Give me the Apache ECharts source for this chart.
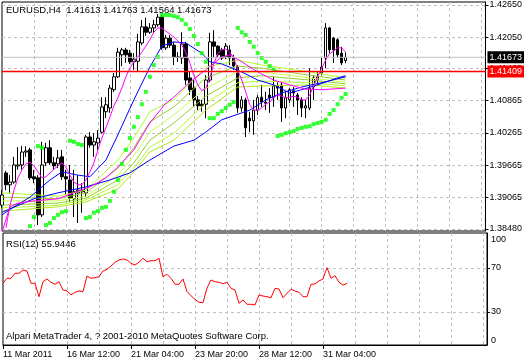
<!DOCTYPE html>
<html><head><meta charset="utf-8">
<script src="https://cdn.jsdelivr.net/npm/echarts@6/dist/echarts.min.js"></script>
<style>html,body{margin:0;padding:0;background:#fff}#c{width:525px;height:363px}</style>
</head><body><div id="c"></div>
<script>
const symbolName = 'EURUSD,H4';
const lastOHLC = [1.41613, 1.41763, 1.41564, 1.41673];
const bidPrice = 1.41673;
const levelPrice = 1.41409;
const rsiName = 'RSI(12)';
const rsiValue = 55.9446;
const copyright = 'Alpari MetaTrader 4, ? 2001-2010 MetaQuotes Software Corp.';
const priceTicks = [1.42650, 1.42050, 1.41465, 1.40865, 1.40265, 1.39665, 1.39065, 1.38480];
const rsiTicks = [100, 70, 30, 0];
const rsiLevels = [70, 30];
const timeTickBars = [0, 16, 32, 48, 64, 80];
const timeTickLabels = ['11 Mar 2011', '16 Mar 12:00', '21 Mar 04:00', '23 Mar 20:00', '28 Mar 12:00', '31 Mar 04:00'];
const totalSlots = 122;

// [open, close, low, high]
const candles = [
[1.3892,1.3911,1.3887,1.3920],[1.3952,1.3930,1.3920,1.3956],[1.3930,1.3935,1.3915,1.3948],[1.3935,1.3967,1.3932,1.3982],
[1.3965,1.3967,1.3958,1.4000],[1.3967,1.3991,1.3958,1.4002],[1.3991,1.3993,1.3982,1.4002],[1.3995,1.3943,1.3939,1.3999],
[1.3945,1.3941,1.3933,1.3958],[1.3943,1.3874,1.3855,1.3948],[1.3874,1.3967,1.3870,1.4010],[1.3971,1.3999,1.3965,1.4008],
[1.3999,1.3971,1.3967,1.4013],[1.3971,1.3965,1.3958,1.3982],[1.3969,1.3980,1.3961,1.3995],[1.3982,1.3945,1.3939,1.3995],
[1.3945,1.3941,1.3911,1.3958],[1.3939,1.3905,1.3898,1.3967],[1.3904,1.3917,1.3870,1.3958],[1.3915,1.3920,1.3859,1.3948],
[1.3920,1.3917,1.3878,1.3933],[1.3915,1.4019,1.3907,1.4023],[1.4019,1.4004,1.3999,1.4028],[1.4004,1.4010,1.3982,1.4026],
[1.4008,1.4017,1.3995,1.4032],[1.4028,1.4075,1.4025,1.4093],[1.4066,1.4079,1.4054,1.4093],[1.4073,1.4110,1.4064,1.4116],
[1.4107,1.4131,1.4103,1.4138],[1.4131,1.4177,1.4129,1.4185],[1.4172,1.4181,1.4151,1.4185],[1.4181,1.4172,1.4157,1.4185],
[1.4175,1.4159,1.4155,1.4181],[1.4159,1.4164,1.4144,1.4175],[1.4160,1.4196,1.4140,1.4211],[1.4194,1.4224,1.4190,1.4237],
[1.4224,1.4214,1.4207,1.4241],[1.4214,1.4222,1.4211,1.4231],[1.4222,1.4228,1.4213,1.4237],[1.4228,1.4242,1.4224,1.4248],
[1.4242,1.4185,1.4181,1.4246],[1.4185,1.4203,1.4181,1.4209],[1.4203,1.4190,1.4185,1.4209],[1.4190,1.4168,1.4153,1.4196],
[1.4168,1.4167,1.4159,1.4177],[1.4166,1.4192,1.4155,1.4214],[1.4192,1.4125,1.4116,1.4196],[1.4129,1.4107,1.4097,1.4140],
[1.4110,1.4088,1.4075,1.4125],[1.4088,1.4077,1.4069,1.4095],[1.4080,1.4077,1.4066,1.4088],[1.4080,1.4125,1.4054,1.4134],
[1.4125,1.4196,1.4121,1.4213],[1.4196,1.4188,1.4166,1.4218],[1.4188,1.4172,1.4166,1.4190],[1.4181,1.4166,1.4162,1.4185],
[1.4168,1.4188,1.4164,1.4194],[1.4181,1.4166,1.4153,1.4190],[1.4166,1.4151,1.4144,1.4172],[1.4149,1.4073,1.4064,1.4153],
[1.4073,1.4088,1.4066,1.4095],[1.4088,1.4036,1.4019,1.4092],[1.4054,1.4049,1.4028,1.4066],[1.4049,1.4069,1.4023,1.4088],
[1.4069,1.4092,1.4060,1.4097],[1.4093,1.4084,1.4075,1.4116],[1.4084,1.4082,1.4069,1.4103],[1.4097,1.4092,1.4064,1.4110],
[1.4093,1.4114,1.4075,1.4131],[1.4114,1.4110,1.4088,1.4121],[1.4116,1.4073,1.4047,1.4120],[1.4073,1.4092,1.4054,1.4103],
[1.4088,1.4107,1.4082,1.4110],[1.4105,1.4101,1.4075,1.4112],[1.4097,1.4088,1.4060,1.4101],[1.4088,1.4073,1.4056,1.4093],
[1.4073,1.4077,1.4054,1.4088],[1.4073,1.4110,1.4069,1.4147],[1.4112,1.4129,1.4088,1.4134],[1.4125,1.4131,1.4116,1.4140],
[1.4138,1.4149,1.4134,1.4166],[1.4166,1.4222,1.4147,1.4231],[1.4222,1.4181,1.4175,1.4224],[1.4203,1.4181,1.4157,1.4205],
[1.4200,1.4172,1.4166,1.4203],[1.4175,1.4157,1.4153,1.4187],[1.41613,1.41673,1.41564,1.41763]
];

const sar = [null,null,null,null,null,null,null,
1.3853,1.3870,1.4002,1.3999,1.3855,1.3859,1.3868,1.3874,1.3879,1.3881,1.4012,1.4010,1.4006,1.4004,
1.3868,1.3870,1.3878,1.3881,1.3887,1.3889,1.3900,1.3917,1.3939,1.3969,1.3995,1.4017,1.4038,1.4056,1.4080,1.4103,1.4131,1.4153,1.4168,
1.4246,1.4246,1.4246,1.4244,1.4242,1.4237,1.4229,1.4220,1.4207,1.4192,1.4175,1.4159,
1.4054,1.4054,1.4062,1.4067,1.4073,1.4079,1.4084,
1.4222,1.4214,1.4209,1.4196,1.4187,1.4175,1.4166,1.4159,1.4151,1.4144,
1.4021,1.4023,1.4026,1.4028,1.4030,1.4034,1.4036,1.4038,1.4039,1.4043,1.4045,1.4047,1.4051,1.4062,1.4069,1.4080,1.4092,1.4099];

const rsi = [56.1,60.6,60.6,65.2,65.2,68.2,67.3,56.1,56.1,43.9,57.5,60,57,55.2,57.5,50,49.1,45.5,47.9,49.1,
48.5,62.7,60.6,61.2,62.1,67.3,68.8,71.8,75.2,77.3,78.2,77.3,74.2,72.7,75.2,78.8,75.7,76.6,76.6,78.8,
62.1,64.3,60.6,55.2,55.2,60,48.5,44.8,41.5,38.8,38.5,51.8,59.1,57.5,57,55.7,57,51.5,50,37.9,
40.9,37,37,36.4,45.5,44.5,43.9,43,51.5,50.9,43,47,50.6,49.1,47.9,43.9,43.9,55.2,55.5,58.2,
60,70.3,60.6,63,57,54.5,55.9446];

const maFastMagenta = [null,1.3850,1.3892,1.3920,1.3943,1.3958,1.3969,1.3972,1.3965,1.3954,1.3943,1.3945,1.3952,1.3959,1.3965,1.3971,
1.3963,1.3948,1.3935,1.3930,1.3930,1.3939,1.3954,1.3971,1.3995,1.4017,1.4036,1.4056,1.4077,1.4092,1.4110,1.4131,1.4147,1.4159,
1.4168,1.4177,1.4188,1.4200,1.4214,1.4222,1.4222,1.4216,1.4211,1.4205,1.4198,1.4190,1.4177,1.4157,1.4134,1.4116,1.4105,1.4110,
1.4129,1.4155,1.4174,1.4181,1.4183,1.4177,1.4166,1.4144,1.4125,1.4103,1.4079,1.4069,1.4069,1.4073,1.4080,1.4084,1.4093,1.4097,
1.4095,1.4092,1.4093,1.4095,1.4093,1.4088,1.4088,1.4097,1.4114,1.4131,1.4147,1.4162,1.4174,1.4179,1.4185,1.4185,1.4177];

const maSlowMagenta = [[0,1.3842],[2,1.3889],[4,1.3896],[8,1.3900],[14,1.3904],[18,1.3915],[22,1.3926],[26,1.3943],[29,1.3963],
[33,1.3995],[37,1.4045],[41,1.4082],[43,1.4093],[47,1.4121],[51,1.4144],[55,1.4168],[57,1.4172],[60,1.4159],[64,1.4140],
[68,1.4125],[72,1.4116],[76,1.4108],[80,1.4107],[86,1.4110]];

const maMidBlue = [[0,1.3874],[3,1.3889],[7,1.3907],[12,1.3939],[15,1.3954],[19,1.3948],[22,1.3945],[26,1.3976],[29,1.4023],
[33,1.4088],[37,1.4149],[40,1.4188],[43,1.4196],[46,1.4194],[50,1.4175],[52,1.4159],[55,1.4155],[60,1.4140],[64,1.4125],
[68,1.4116],[72,1.4101],[75,1.4107],[79,1.4116],[84,1.4129],[86,1.4133]];

const maSlowBlue = [[0,1.3879],[8,1.3904],[14,1.3915],[21,1.3926],[27,1.3939],[32,1.3952],[37,1.3976],[43,1.4002],[48,1.4013],
[51,1.4028],[55,1.4051],[62,1.4069],[66,1.4088],[70,1.4101],[75,1.4112],[80,1.4120],[86,1.4131]];

const ribbonBars = [0, 14, 21, 29, 33, 37, 43, 51, 59, 65, 77, 86];
const ribbon1 = [1.3915,1.3909,1.3920,1.3976,1.4017,1.4066,1.4088,1.4149,1.4162,1.4153,1.4140,1.4129];
const ribbon2 = [1.3907,1.3904,1.3915,1.3961,1.3999,1.4047,1.4075,1.4129,1.4151,1.4147,1.4134,1.4125];
const ribbon3 = [1.3900,1.3900,1.3909,1.3948,1.3984,1.4028,1.4060,1.4110,1.4140,1.4140,1.4129,1.4121];
const ribbon4 = [1.3892,1.3896,1.3905,1.3939,1.3971,1.4013,1.4045,1.4095,1.4129,1.4133,1.4125,1.4118];
const ribbon5 = [1.3887,1.3892,1.3902,1.3930,1.3961,1.4000,1.4026,1.4082,1.4120,1.4123,1.4120,1.4114];
const ribbon6 = [1.3881,1.3889,1.3898,1.3922,1.3954,1.3991,1.4013,1.4069,1.4112,1.4114,1.4116,1.4110];

// ---------- chart ----------
const FONT = 'Liberation Sans';
const GRID_COLOR = '#C0C0C0';
const cats = [];
for (let i = 0; i < totalSlots; i++) cats.push(String(i));

const ribbonColors = ['#ADFF2F', '#9ACD32', '#C8FF50', '#9ACD32', '#ADFF2F', '#B5E61D'];
const ribbons = [ribbon1, ribbon2, ribbon3, ribbon4, ribbon5, ribbon6];

function lineSeries(name, data, color, z) {
  return { name, type: 'line', xAxisIndex: 0, yAxisIndex: 0, data, showSymbol: false, symbol: 'none',
    connectNulls: true, lineStyle: { color, width: 1 }, itemStyle: { color }, z: z || 3, silent: true, animation: false };
}
function priceLine(name, value, color, boxColor, width) {
  return {
    name, type: 'line', xAxisIndex: 0, yAxisIndex: 0, silent: true, animation: false, z: 6,
    data: [[0, value], [totalSlots - 1, value]], showSymbol: false, symbol: 'none', clip: false,
    lineStyle: { color: color, width: width, type: 'solid', opacity: 1 }, itemStyle: { color: color },
    emphasis: { disabled: true },
    endLabel: { show: true, distance: 2, formatter: () => value.toFixed(5), color: '#FFFFFF',
      backgroundColor: boxColor, padding: [2, 2, 1, 2], fontSize: 9, fontFamily: FONT }
  };
}

const series = [];
series.push({
  type: 'line', xAxisIndex: 0, yAxisIndex: 0, data: [], silent: true,
  markLine: { silent: true, symbol: 'none', z: 1, precision: 6, animation: false,
    lineStyle: { color: GRID_COLOR, type: [3, 3], width: 1 }, label: { show: false },
    data: priceTicks.map(v => ({ yAxis: v })) }
});
series.push({
  type: 'candlestick', xAxisIndex: 0, yAxisIndex: 0, data: candles, barWidth: 3, z: 2,
  itemStyle: { color: '#FFFFFF', color0: '#000000', borderColor: '#000000', borderColor0: '#000000', borderWidth: 1 },
  silent: true, animation: false
});
ribbons.forEach((r, k) => {
  series.push(lineSeries('rb' + k, ribbonBars.map((b, j) => [b, r[j]]), ribbonColors[k], 3));
});
series.push(lineSeries('slowBlue', maSlowBlue, '#0000FF', 4));
series.push(lineSeries('midBlue', maMidBlue, '#0000FF', 4));
series.push(lineSeries('slowMagenta', maSlowMagenta, '#FF00FF', 4));
series.push(lineSeries('fastMagenta', maFastMagenta, '#FF00FF', 4));
series.push({
  type: 'scatter', xAxisIndex: 0, yAxisIndex: 0, data: sar, symbol: 'rect', symbolSize: [4, 4],
  itemStyle: { color: '#00FF00' }, z: 5, silent: true, animation: false
});
series.push(priceLine('bid', bidPrice, '#C0C0C0', '#000000', 1));
series.push(priceLine('level', levelPrice, '#FF0000', '#FF0000', 1.4));
series.push({
  type: 'line', xAxisIndex: 1, yAxisIndex: 1, data: rsi, showSymbol: false, symbol: 'none',
  lineStyle: { color: '#FF0000', width: 1 }, itemStyle: { color: '#FF0000' }, z: 3, silent: true, animation: false,
  markLine: { silent: true, symbol: 'none', z: 1, precision: 4, animation: false,
    lineStyle: { color: GRID_COLOR, type: [3, 3], width: 1 }, label: { show: false },
    data: rsiLevels.map(v => ({ yAxis: v })) }
});

const vGrid = (i) => i > 0 && i % 8 === 0;
const isTimeTick = (i) => timeTickBars.indexOf(i) >= 0;
const rsiLabelPos = (v) => v === 100 ? 95.5 : (v === 0 ? 4.5 : v);

const option = {
  animation: false,
  backgroundColor: '#FFFFFF',
  grid: [
    { left: 2, top: 2, width: 485, height: 229, show: true, borderColor: '#000', borderWidth: 1, backgroundColor: '#FFFFFF' },
    { left: 2, top: 233, width: 485, height: 112, show: true, borderColor: '#000', borderWidth: 1, backgroundColor: '#FFFFFF' }
  ],
  xAxis: [
    { type: 'category', gridIndex: 0, data: cats, boundaryGap: false,
      axisLine: { show: false }, axisTick: { show: false }, axisLabel: { show: false },
      splitLine: { show: true, interval: vGrid, lineStyle: { color: GRID_COLOR, type: [3, 3], width: 1 } } },
    { type: 'category', gridIndex: 1, data: cats, boundaryGap: false,
      axisLine: { show: true, lineStyle: { color: '#000', width: 1 } },
      axisTick: { show: true, interval: isTimeTick, length: 4, lineStyle: { color: '#000' } },
      axisLabel: { show: true, interval: isTimeTick, align: 'left', margin: 5, fontSize: 9, fontFamily: FONT, color: '#000',
        formatter: (v) => { const k = timeTickBars.indexOf(Number(v)); return k >= 0 ? timeTickLabels[k] : ''; } },
      splitLine: { show: true, interval: vGrid, lineStyle: { color: GRID_COLOR, type: [3, 3], width: 1 } } }
  ],
  yAxis: [
    { type: 'value', gridIndex: 0, position: 'right', min: 1.384400, max: 1.427028,
      axisLine: { show: true, lineStyle: { color: '#000' } },
      axisTick: { show: true, customValues: priceTicks, length: 3, lineStyle: { color: '#000' } },
      axisLabel: { show: true, customValues: priceTicks, margin: 4, fontSize: 9, fontFamily: FONT, color: '#000',
        formatter: v => Number(v).toFixed(5) },
      splitLine: { show: false } },
    { type: 'value', gridIndex: 1, position: 'right', min: 0, max: 101.8,
      axisLine: { show: true, lineStyle: { color: '#000' } },
      axisTick: { show: true, customValues: rsiLevels, length: 3, lineStyle: { color: '#000' } },
      axisLabel: { show: true, customValues: rsiTicks.map(rsiLabelPos), margin: 4, fontSize: 9, fontFamily: FONT, color: '#000',
        formatter: v => { const k = rsiTicks.map(rsiLabelPos).indexOf(Number(v)); return k >= 0 ? String(rsiTicks[k]) : ''; } },
      splitLine: { show: false } }
  ],
  graphic: [
    { type: 'text', left: 6, top: 5, z: 10, silent: true,
      style: { text: symbolName + '  ' + lastOHLC.map(v => v.toFixed(5)).join(' '), fill: '#000', font: '9.5px ' + FONT } },
    { type: 'text', left: 6, top: 239, z: 10, silent: true,
      style: { text: rsiName + ' ' + rsiValue, fill: '#000', font: '9.5px ' + FONT } },
    { type: 'text', left: 6, top: 331, z: 10, silent: true,
      style: { text: copyright, fill: '#000', font: '9.5px ' + FONT } }
  ],
  series
};

const chart = echarts.init(document.getElementById('c'), null, { renderer: 'canvas' });
chart.setOption(option);
</script></body></html>
